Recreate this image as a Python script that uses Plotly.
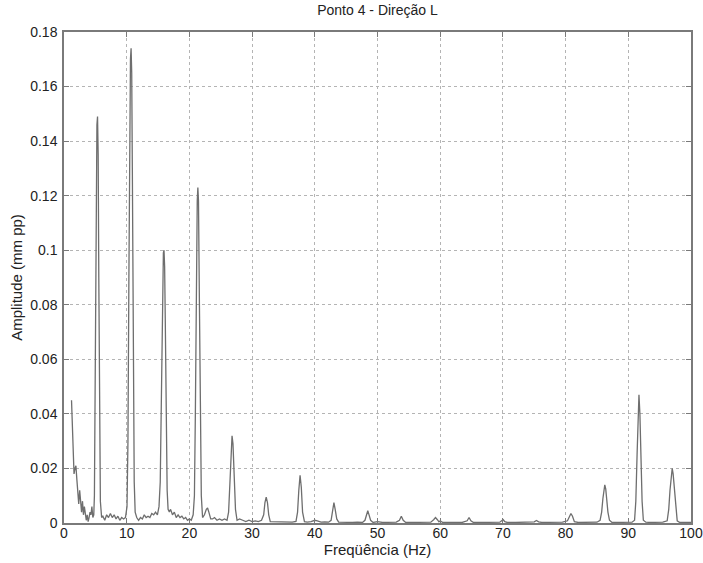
import plotly.graph_objects as go

# Spectrum (frequency in Hz, amplitude in mm pp)
freq_hz = [
    1.2, 1.4, 1.6, 1.75, 1.9, 2.05, 2.2, 2.35, 2.5, 2.65, 2.8, 2.95, 3.1, 3.25, 3.4, 3.55, 3.7, 3.85, 4.0, 4.15,
    4.3, 4.45, 4.6, 4.75, 4.85, 4.95, 5.05, 5.15, 5.25, 5.35, 5.45, 5.55, 5.65, 5.8, 6.0, 6.2, 6.5, 6.8, 7.1, 7.4,
    7.7, 8.0, 8.3, 8.6, 8.9, 9.2, 9.5, 9.8, 10.05, 10.2, 10.35, 10.5, 10.6, 10.7, 10.8, 10.9, 11.05, 11.2, 11.35, 11.6,
    11.9, 12.2, 12.5, 12.8, 13.1, 13.4, 13.7, 14.0, 14.3, 14.6, 14.9, 15.15, 15.35, 15.55, 15.7, 15.85, 15.95, 16.05, 16.15, 16.3,
    16.45, 16.6, 16.8, 17.0, 17.3, 17.6, 17.9, 18.2, 18.5, 18.8, 19.1, 19.4, 19.7, 20.0, 20.3, 20.6, 20.8, 20.95, 21.1, 21.25,
    21.35, 21.45, 21.6, 21.75, 21.9, 22.1, 22.4, 22.7, 22.9, 23.1, 23.4, 23.7, 24.0, 24.4, 24.8, 25.2, 25.6, 26.0, 26.25, 26.45,
    26.65, 26.8, 26.95, 27.15, 27.35, 27.6, 28.0, 28.5, 29.0, 29.5, 30.0, 30.5, 31.0, 31.5, 31.85, 32.05, 32.25, 32.45, 32.65, 32.9,
    33.4, 34.0, 34.6, 35.2, 35.8, 36.4, 37.0, 37.25, 37.45, 37.65, 37.85, 38.05, 38.35, 38.8, 39.4, 40.0, 40.4, 41.0, 41.6, 42.2,
    42.6, 42.85, 43.05, 43.25, 43.5, 43.8, 44.4, 45.2, 46.0, 46.8, 47.6, 48.0, 48.25, 48.45, 48.65, 48.9, 49.3, 50.0, 50.8, 52.0,
    53.0, 53.5, 53.8, 54.1, 54.5, 55.5, 56.5, 57.5, 58.5, 58.95, 59.25, 59.55, 59.8, 60.0, 60.4, 61.5, 62.5, 63.5, 64.3, 64.6,
    64.9, 65.3, 66.5, 67.5, 68.5, 69.5, 69.8, 70.05, 70.3, 70.7, 72.0, 73.0, 74.0, 75.0, 75.35, 75.7, 76.2, 77.5, 78.5, 79.5,
    80.3, 80.6, 80.85, 81.1, 81.4, 82.0, 83.0, 84.0, 85.0, 85.5, 85.75, 85.95, 86.1, 86.25, 86.4, 86.55, 86.75, 87.0, 87.4, 88.2,
    89.2, 90.0, 90.6, 91.0, 91.2, 91.4, 91.55, 91.7, 91.85, 92.0, 92.2, 92.4, 92.8, 93.5, 94.5, 95.5, 96.2, 96.45, 96.65, 96.85,
    97.0, 97.15, 97.35, 97.55, 97.8, 98.2, 99.0, 100.0,
]
amplitude_mm = [
    0.045, 0.03, 0.018, 0.02, 0.021, 0.016, 0.01, 0.007, 0.012, 0.006, 0.004, 0.008, 0.003, 0.006, 0.002, 0.001, 0.003, 0.0005, 0.002, 0.004,
    0.003, 0.006, 0.002, 0.003, 0.01, 0.04, 0.09, 0.13, 0.146, 0.149, 0.135, 0.09, 0.04, 0.008, 0.002, 0.0025, 0.001, 0.003, 0.002, 0.0035,
    0.002, 0.003, 0.0015, 0.0025, 0.001, 0.002, 0.0015, 0.002, 0.006, 0.03, 0.09, 0.15, 0.17, 0.174, 0.165, 0.13, 0.06, 0.015, 0.004, 0.002,
    0.001, 0.002, 0.0015, 0.003, 0.002, 0.0025, 0.002, 0.0035, 0.003, 0.004, 0.003, 0.006, 0.015, 0.05, 0.085, 0.099, 0.100, 0.094, 0.075, 0.035,
    0.012, 0.005, 0.004, 0.005, 0.003, 0.004, 0.002, 0.003, 0.002, 0.0025, 0.0015, 0.002, 0.001, 0.0015, 0.001, 0.003, 0.01, 0.04, 0.09, 0.118,
    0.123, 0.118, 0.08, 0.035, 0.01, 0.002, 0.003, 0.005, 0.0055, 0.004, 0.0015, 0.0015, 0.002, 0.001, 0.0015, 0.001, 0.0015, 0.001, 0.004, 0.014,
    0.027, 0.032, 0.029, 0.016, 0.005, 0.001, 0.0015, 0.001, 0.0005, 0.001, 0.0005, 0.0008, 0.0005, 0.001, 0.003, 0.0075, 0.0095, 0.0075, 0.003, 0.0005,
    0.0005, 0.0003, 0.0005, 0.0003, 0.0005, 0.0003, 0.0006, 0.004, 0.012, 0.0175, 0.013, 0.004, 0.0005, 0.0003, 0.0005, 0.001, 0.0008, 0.0003, 0.0004, 0.0003,
    0.001, 0.004, 0.0075, 0.005, 0.0015, 0.0003, 0.0002, 0.0003, 0.0002, 0.0003, 0.0002, 0.001, 0.003, 0.0045, 0.003, 0.001, 0.0002, 0.0005, 0.0002, 0.0002,
    0.0003, 0.001, 0.0025, 0.001, 0.0002, 0.0002, 0.0002, 0.0003, 0.0003, 0.0012, 0.002, 0.0012, 0.0004, 0.0008, 0.0002, 0.0002, 0.0002, 0.0002, 0.0008, 0.002,
    0.0008, 0.0002, 0.0002, 0.0002, 0.0002, 0.0003, 0.0008, 0.0012, 0.0005, 0.0002, 0.0002, 0.0003, 0.0002, 0.0004, 0.0009, 0.0004, 0.0002, 0.0002, 0.0002, 0.0003,
    0.0008, 0.0025, 0.0035, 0.0025, 0.0005, 0.0002, 0.0002, 0.0002, 0.0003, 0.001, 0.004, 0.009, 0.0125, 0.014, 0.0125, 0.009, 0.004, 0.001, 0.0002, 0.0002,
    0.0003, 0.0005, 0.0003, 0.001, 0.008, 0.025, 0.04, 0.047, 0.04, 0.025, 0.008, 0.001, 0.0003, 0.0002, 0.0002, 0.0003, 0.0008, 0.005, 0.012, 0.018,
    0.020, 0.018, 0.012, 0.005, 0.0008, 0.0002, 0.0002, 0.0002,
]

x_ticks = [0, 10, 20, 30, 40, 50, 60, 70, 80, 90, 100]
y_ticks = [0, 0.02, 0.04, 0.06, 0.08, 0.10, 0.12, 0.14, 0.16, 0.18]
y_tick_text = ["0", "0.02", "0.04", "0.06", "0.08", "0.1", "0.12", "0.14", "0.16", "0.18"]

FONT = "Liberation Sans, Arial, sans-serif"

fig = go.Figure()
fig.add_trace(go.Scatter(
    x=freq_hz, y=amplitude_mm, mode="lines",
    line=dict(color="#6e6e6e", width=1.3),
    hoverinfo="x+y", showlegend=False,
))

axis_common = dict(
    showline=True, linecolor="#7a7a7a", linewidth=1.5, mirror="ticks",
    ticks="inside", ticklen=5, tickcolor="#7a7a7a",
    showgrid=True, gridcolor="#b4b4b4", griddash="dot", gridwidth=1,
    zeroline=False, automargin=False,
    tickfont=dict(family=FONT, size=14, color="#222"),
)

fig.update_xaxes(
    range=[0, 100], tickmode="array", tickvals=x_ticks, ticklabelstandoff=-4,
    title=dict(text="Freqüência (Hz)", standoff=2, font=dict(family=FONT, size=15, color="#222")),
    **axis_common,
)
fig.update_yaxes(
    range=[0, 0.18], tickmode="array", tickvals=y_ticks, ticktext=y_tick_text, ticklabelstandoff=2,
    title=dict(text="Amplitude (mm pp)", standoff=4, font=dict(family=FONT, size=15, color="#222")),
    **axis_common,
)

fig.update_layout(
    width=703, height=563,
    margin=dict(l=64, r=12, t=32, b=40),
    paper_bgcolor="white", plot_bgcolor="white",
    title=dict(text="Ponto 4 - Direção L", x=0.5, xref="paper", y=1 - 10 / 563, yref="container",
               yanchor="middle", pad=dict(t=0, b=0),
               font=dict(family=FONT, size=14, color="#222")),
)

# remove the browser's default 8px page margin so the figure sits at the window origin
fig.write_html("out.html", config={"displayModeBar": False},
               post_script="document.body.style.margin='0';")
